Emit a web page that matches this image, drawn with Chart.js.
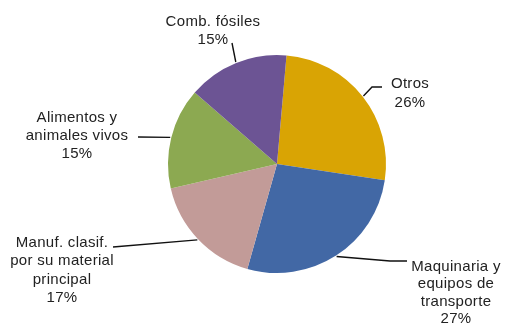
<!DOCTYPE html>
<html>
<head>
<meta charset="utf-8">
<script src="https://cdn.jsdelivr.net/npm/chart.js@4/dist/chart.umd.min.js"></script>
<style>
  html, body { margin: 0; padding: 0; background: #fff; }
  #wrap { width: 506px; height: 326px; }
</style>
</head>
<body>
<div id="wrap"><canvas id="pie"></canvas></div>
<script>
// Export structure by product group (%)
const categories = [
  ['Otros'],
  ['Maquinaria y', 'equipos de', 'transporte'],
  ['Manuf. clasif.', 'por su material', 'principal'],
  ['Alimentos y', 'animales vivos'],
  ['Comb. fósiles']
];
const shares = [26, 27, 17, 15, 15];
const sliceColors = ['#D9A404', '#4268A5', '#C29B98', '#8CA951', '#6C5494'];

// label placement: text centre, line height, and leader line bend points
const labelLayout = [
  { x: 410, y: 84,  lh: 18.5, path: [[372, 87], [382, 87]] },
  { x: 456, y: 267, lh: 17.2, path: [[390, 261], [407, 261]] },
  { x: 62,  y: 243, lh: 18.3, path: [[113, 247]] },
  { x: 77,  y: 118, lh: 18,   path: [[138, 137]] },
  { x: 213, y: 22,  lh: 18.3, path: [[232, 43]] }
];

const calloutPlugin = {
  id: 'callouts',
  afterDatasetsDraw(chart) {
    const ctx = chart.ctx;
    const meta = chart.getDatasetMeta(0);
    ctx.save();
    ctx.strokeStyle = '#111';
    ctx.lineWidth = 1.4;
    ctx.fillStyle = '#222';
    ctx.font = '15px "Liberation Sans", Arial, sans-serif';
    ctx.letterSpacing = '0.3px';
    ctx.textAlign = 'center';
    ctx.textBaseline = 'middle';
    meta.data.forEach((arc, i) => {
      const mid = (arc.startAngle + arc.endAngle) / 2;
      const r = arc.outerRadius + 1;
      const lay = labelLayout[i];
      ctx.beginPath();
      ctx.moveTo(arc.x + Math.cos(mid) * r, arc.y + Math.sin(mid) * r);
      lay.path.forEach(p => ctx.lineTo(p[0], p[1]));
      ctx.stroke();
      const lines = categories[i].concat([shares[i] + '%']);
      lines.forEach((t, k) => ctx.fillText(t, lay.x, lay.y + k * lay.lh));
    });
    ctx.restore();
  }
};

new Chart(document.getElementById('pie'), {
  type: 'pie',
  data: {
    labels: categories,
    datasets: [{
      data: shares,
      backgroundColor: sliceColors,
      borderWidth: 0
    }]
  },
  options: {
    responsive: true,
    maintainAspectRatio: false,
    animation: false,
    rotation: 5,
    layout: { padding: { top: 55, bottom: 53, left: 168, right: 120 } },
    plugins: {
      legend: { display: false },
      tooltip: { enabled: false }
    }
  },
  plugins: [calloutPlugin]
});
</script>
</body>
</html>
